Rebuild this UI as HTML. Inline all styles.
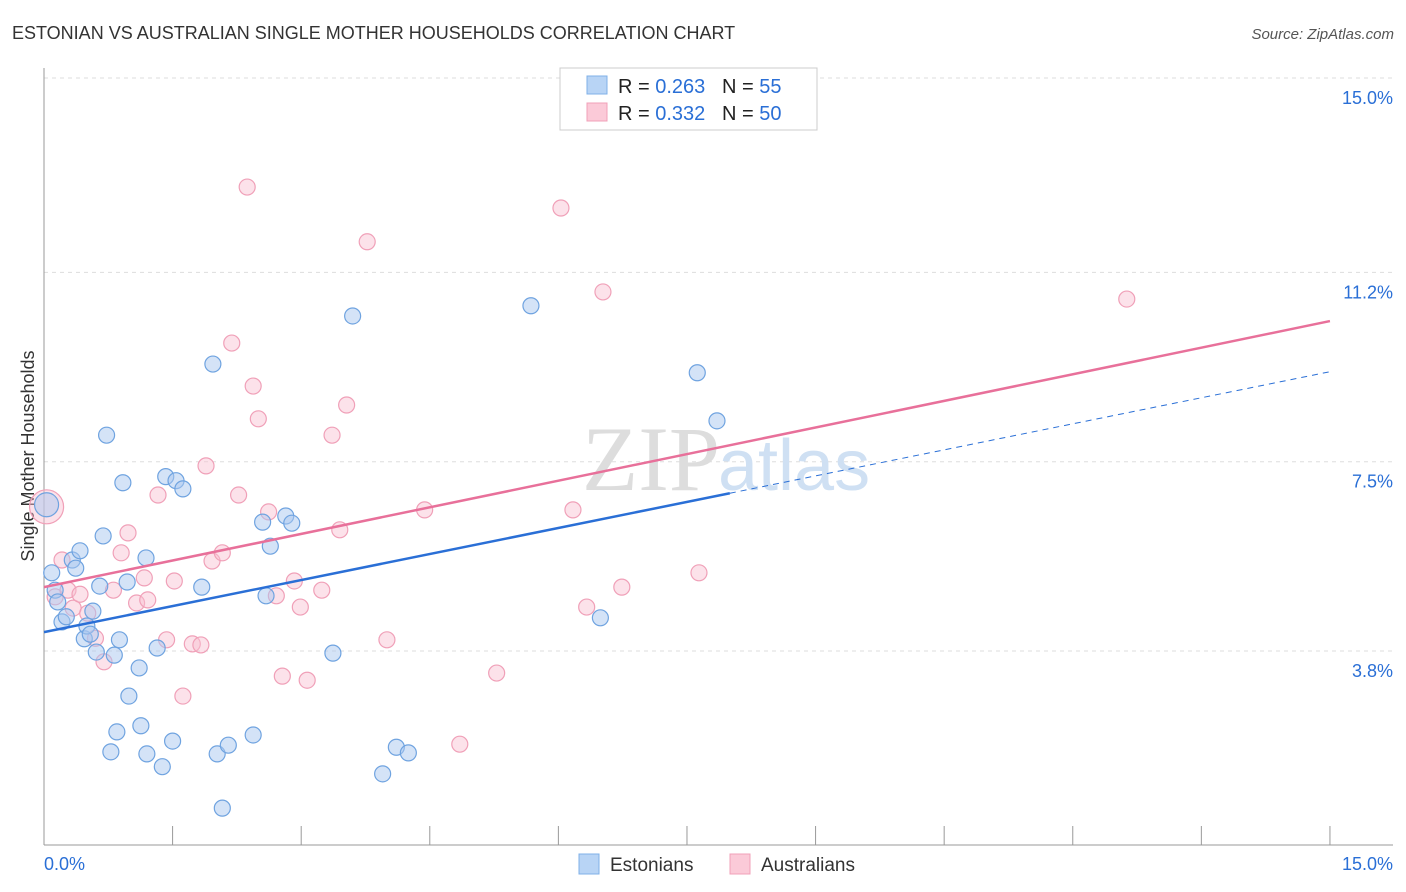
<!DOCTYPE html>
<html><head><meta charset="utf-8"><style>
body{margin:0;background:#fff;font-family:"Liberation Sans",sans-serif;}
svg{display:block}
</style></head><body>
<svg id="chart" width="1406" height="892">
<text x="12" y="39" font-size="18" fill="#333">ESTONIAN VS AUSTRALIAN SINGLE MOTHER HOUSEHOLDS CORRELATION CHART</text>
<text x="1394" y="39" font-size="15" fill="#555" font-style="italic" text-anchor="end">Source: ZipAtlas.com</text>
<g id="grid"></g>
<text x="720" y="490" font-size="92" fill="#ddd" text-anchor="end" font-family="Liberation Serif">ZIP</text>
<text x="718" y="490" font-size="72" fill="#cfe0f3">atlas</text>
<g id="axes"></g>
<text x="34" y="456" font-size="18" fill="#333" text-anchor="middle" transform="rotate(-90 34 456)">Single Mother Households</text>
<g id="marks"></g>
<g>
<rect x="560" y="68" width="257" height="62" fill="#fff" stroke="#ccc"/>
<rect x="587" y="76" width="20" height="18" fill="#b8d4f5" stroke="#7fb0e8"/>
<rect x="587" y="103" width="20" height="18" fill="#fbcad8" stroke="#f0a0b8"/>
<text x="618" y="93" font-size="20" fill="#222">R = <tspan fill="#2a6fd6">0.263</tspan>&#160;&#160;&#160;N = <tspan fill="#2a6fd6">55</tspan></text>
<text x="618" y="120" font-size="20" fill="#222">R = <tspan fill="#2a6fd6">0.332</tspan>&#160;&#160;&#160;N = <tspan fill="#2a6fd6">50</tspan></text>
</g>
<g>
<rect x="579" y="854" width="20" height="20" fill="#b8d4f5" stroke="#7fb0e8"/>
<text x="610" y="871" font-size="19" fill="#333">Estonians</text>
<rect x="730" y="854" width="20" height="20" fill="#fbcad8" stroke="#f0a0b8"/>
<text x="761" y="871" font-size="19" fill="#333">Australians</text>
</g>
</svg>
<script>
const blueX=[0.03,0.09,0.13,0.16,0.21,0.26,0.33,0.37,0.42,0.47,0.50,0.54,0.57,0.61,0.65,0.69,0.73,0.78,0.82,0.85,0.88,0.92,0.97,0.99,1.11,1.13,1.19,1.20,1.32,1.38,1.42,1.50,1.54,1.62,1.84,1.97,2.02,2.08,2.15,2.44,2.55,2.59,2.64,2.82,2.89,3.37,3.60,3.95,4.11,4.25,5.68,6.49,7.62,7.85];
const blueY=[7.03,5.70,5.36,5.13,4.74,4.84,5.95,5.79,6.13,4.41,4.66,4.50,4.95,4.15,5.44,6.42,8.39,2.20,4.09,2.59,4.39,7.46,5.52,3.29,3.84,2.71,5.99,2.16,4.23,1.91,7.58,2.41,7.50,7.34,5.42,9.78,2.16,1.10,2.33,2.53,6.69,5.25,6.22,6.81,6.67,4.13,10.72,1.77,2.29,2.18,10.92,4.82,9.61,8.67];
const pinkX=[0.03,0.13,0.21,0.28,0.34,0.42,0.51,0.60,0.70,0.81,0.90,0.98,1.08,1.17,1.21,1.33,1.43,1.52,1.62,1.73,1.83,1.96,2.08,2.19,1.89,2.27,2.37,2.44,2.50,2.62,2.71,2.78,2.92,2.99,3.07,3.24,3.36,3.45,3.53,3.77,4.00,4.44,4.85,5.28,6.03,6.17,6.33,6.52,6.74,7.64,12.63];
const pinkY=[6.99,5.23,5.95,5.36,5.01,5.28,4.91,4.42,3.96,5.36,6.09,6.48,5.11,5.60,5.17,7.22,4.39,5.54,3.29,4.31,4.29,5.93,6.09,10.19,7.79,7.22,13.24,9.35,8.71,6.89,5.25,3.68,5.54,5.03,3.60,5.36,8.39,6.54,8.98,12.17,4.39,6.93,2.35,3.74,12.83,6.93,5.03,11.19,5.42,5.70,11.05];
const blueTrend=[4.54,9.63]; // y at x=0 and x=15
const pinkTrend=[5.42,10.62];
const yTicks=[3.8,7.5,11.2,15.0];
const yTickLabels=["3.8%","7.5%","11.2%","15.0%"];
const ns="http://www.w3.org/2000/svg";
const X=v=>44+v*85.73, Y=v=>864.4-v*51.16;
function mk(t,a,p){const e=document.createElementNS(ns,t);for(const k in a)e.setAttribute(k,a[k]);p.appendChild(e);return e;}
const grid=document.getElementById('grid'),axes=document.getElementById('axes'),marks=document.getElementById('marks');
yTicks.forEach((v,i)=>{
 const l=mk('line',{x1:44,x2:1393,y1:Y(v)-19,y2:Y(v)-19,stroke:'#ddd','stroke-dasharray':'4 4'},grid);
 
 
 const t=mk('text',{x:1393,y:Y(v)+7,'font-size':18,fill:'#2a6fd6','text-anchor':'end'},axes);
 t.textContent=yTickLabels[i];
 
 
});
mk('line',{x1:44,x2:44,y1:68,y2:845,stroke:'#999'},axes);
mk('line',{x1:44,x2:1393,y1:845,y2:845,stroke:'#999'},axes);
for(let i=0;i<=10;i++){const x=X(i*1.5);const t=mk('line',{x1:x,x2:x,y1:826,y2:845,stroke:'#999'},axes);
 
 }
let t1=mk('text',{x:44,y:870,'font-size':18,fill:'#2a6fd6'},axes);t1.textContent='0.0%';


let t2=mk('text',{x:1393,y:870,'font-size':18,fill:'#2a6fd6','text-anchor':'end'},axes);t2.textContent='15.0%';


pinkX.forEach((x,i)=>{const c=mk('circle',{cx:X(x),cy:Y(pinkY[i]),r:i===0?17:8,fill:'rgba(248,190,208,0.45)',stroke:'#f0a0b8','stroke-width':1.2},marks);
 
 });
blueX.forEach((x,i)=>{const c=mk('circle',{cx:X(x),cy:Y(blueY[i]),r:i===0?12:8,fill:'rgba(170,200,240,0.5)',stroke:'#6fa3e0','stroke-width':1.2},marks);
 
 });
const by=x=>blueTrend[0]+(blueTrend[1]-blueTrend[0])*x/15;
let l1=mk('line',{x1:X(0),y1:Y(by(0)),x2:X(8),y2:Y(by(8)),stroke:'#2a6fd6','stroke-width':2.5},marks);


let l2=mk('line',{x1:X(8),y1:Y(by(8)),x2:X(15),y2:Y(by(15)),stroke:'#2a6fd6','stroke-width':1,'stroke-dasharray':'6 5'},marks);


let l3=mk('line',{x1:X(0),y1:Y(pinkTrend[0]),x2:X(15),y2:Y(pinkTrend[1]),stroke:'#e8709a','stroke-width':2.5},marks);


</script>
</body></html>
